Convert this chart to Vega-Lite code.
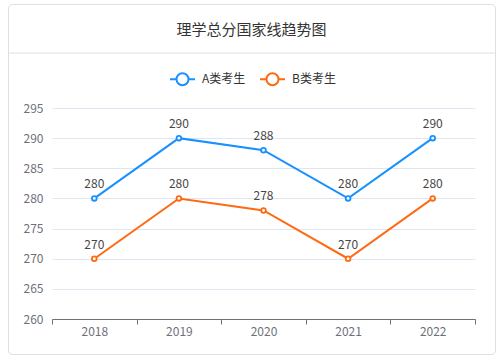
{
  "$schema": "https://vega.github.io/schema/vega-lite/v6.json",
  "background": "#ffffff",
  "padding": {"left": 7, "top": 4, "right": 9, "bottom": 7},
  "width": 487,
  "height": 350,
  "config": {
    "font": "Noto Sans CJK SC",
    "view": {"stroke": "#dcdfe6", "strokeWidth": 1, "cornerRadius": 4}
  },
  "title": {
    "text": "理学总分国家线趋势图",
    "anchor": "middle",
    "orient": "top",
    "offset": -41,
    "baseline": "middle",
    "fontSize": 15,
    "fontWeight": "normal",
    "color": "#333333"
  },
  "data": {
    "values": [
      {"year": "2018", "group": "A类考生", "score": 280},
      {"year": "2019", "group": "A类考生", "score": 290},
      {"year": "2020", "group": "A类考生", "score": 288},
      {"year": "2021", "group": "A类考生", "score": 280},
      {"year": "2022", "group": "A类考生", "score": 290},
      {"year": "2018", "group": "B类考生", "score": 270},
      {"year": "2019", "group": "B类考生", "score": 280},
      {"year": "2020", "group": "B类考生", "score": 278},
      {"year": "2021", "group": "B类考生", "score": 270},
      {"year": "2022", "group": "B类考生", "score": 280}
    ]
  },
  "layer": [
    {
      "data": {"values": [{}]},
      "mark": {"type": "rule", "color": "#dcdfe6", "strokeWidth": 1},
      "encoding": {
        "y": {"datum": 304.12, "type": "quantitative"}
      }
    },
    {
      "mark": {"type": "line", "strokeWidth": 2},
      "encoding": {
        "x": {
          "field": "year",
          "type": "ordinal",
          "scale": {"type": "band", "paddingInner": 0, "paddingOuter": 0, "range": [44, 467]},
          "axis": {
            "title": null,
            "orient": "bottom",
            "offset": -35,
            "labelAngle": 0,
            "domainColor": "#6e7079",
            "tickColor": "#6e7079",
            "tickSize": 5,
            "tickBand": "extent",
            "labelPadding": 2,
            "labelColor": "#6e7079",
            "labelFontSize": 12,
            "grid": false
          }
        },
        "y": {
          "field": "score",
          "type": "quantitative",
          "scale": {"domain": [260, 295], "nice": false, "zero": false, "range": [315, 104]},
          "axis": {
            "title": null,
            "orient": "left",
            "offset": -44,
            "values": [260, 265, 270, 275, 280, 285, 290, 295],
            "domain": false,
            "ticks": false,
            "tickSize": 0,
            "labelPadding": 9,
            "labelColor": "#6e7079",
            "labelFontSize": 12,
            "grid": true,
            "gridColor": "#e0e6f1",
            "gridWidth": 1
          }
        },
        "color": {
          "field": "group",
          "type": "nominal",
          "scale": {"domain": ["A类考生", "B类考生"], "range": ["#1890ff", "#ff6a10"]},
          "legend": {
            "title": null,
            "orient": "none",
            "direction": "horizontal",
            "legendX": 161,
            "legendY": 61.5,
            "padding": 0,
            "symbolType": "M-1,0L-0.48,0M0.48,0L1,0M-0.48,0A0.48,0.48,0,1,0,0.48,0A0.48,0.48,0,1,0,-0.48,0Z",
            "symbolSize": 625,
            "symbolStrokeWidth": 2,
            "symbolFillColor": "#ffffff",
            "labelFontSize": 12,
            "labelColor": "#333333",
            "labelOffset": 6,
            "columnPadding": 10
          }
        }
      }
    },
    {
      "mark": {"type": "point", "filled": false, "fill": "#ffffff", "fillOpacity": 1, "opacity": 1, "size": 22, "strokeWidth": 1.8},
      "encoding": {
        "x": {"field": "year", "type": "ordinal"},
        "y": {"field": "score", "type": "quantitative"},
        "color": {
          "field": "group",
          "type": "nominal",
          "legend": {
            "title": null,
            "orient": "none",
            "direction": "horizontal",
            "legendX": 161,
            "legendY": 61.5,
            "padding": 0,
            "symbolType": "M-1,0L-0.48,0M0.48,0L1,0M-0.48,0A0.48,0.48,0,1,0,0.48,0A0.48,0.48,0,1,0,-0.48,0Z",
            "symbolSize": 625,
            "symbolStrokeWidth": 2,
            "symbolFillColor": "#ffffff",
            "labelFontSize": 12,
            "labelColor": "#333333",
            "labelOffset": 6,
            "columnPadding": 10
          }
        }
      }
    },
    {
      "mark": {"type": "text", "dy": -14, "fontSize": 12, "color": "#464646", "baseline": "middle"},
      "encoding": {
        "x": {"field": "year", "type": "ordinal"},
        "y": {"field": "score", "type": "quantitative"},
        "text": {"field": "score", "type": "quantitative"}
      }
    }
  ]
}
